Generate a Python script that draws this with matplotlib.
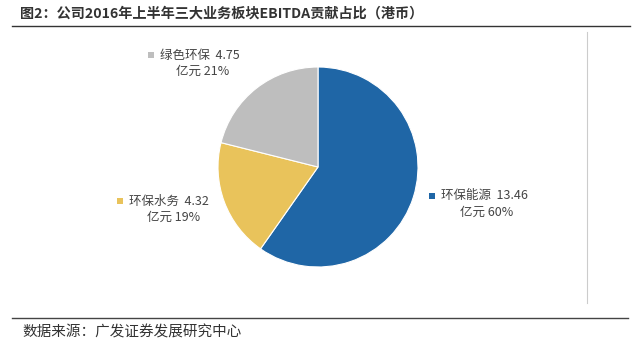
import matplotlib
matplotlib.use("Agg")
import matplotlib.pyplot as plt
from matplotlib.patches import Rectangle
from matplotlib.lines import Line2D

plt.rcParams['font.family'] = ['Noto Sans CJK SC', 'DejaVu Sans']

title = "图2：公司2016年上半年三大业务板块EBITDA贡献占比（港币）"
source = "数据来源：广发证券发展研究中心"
segments = ["环保能源", "环保水务", "绿色环保"]
values = [13.46, 4.32, 4.75]
unit = "亿元"
colors = ["#1F66A6", "#E9C35B", "#BEBEBE"]

W, H = 640, 348
fig = plt.figure(figsize=(W / 100, H / 100), dpi=100)
fig.patch.set_facecolor("white")

def fx(x):
    return x / W

def fy(y):
    return 1 - y / H

# pie axes: center (318,167), radius 100 px
cx, cy, r = 318, 167, 100
ax = fig.add_axes([fx(cx - r), fy(cy + r), 2 * r / W, 2 * r / H])
ax.pie(values, colors=colors, startangle=90, counterclock=False, radius=1,
       wedgeprops=dict(edgecolor="white", linewidth=0.8))
ax.set_xlim(-1.0, 1.0)
ax.set_ylim(-1.0, 1.0)
ax.set_aspect("equal")
ax.axis("off")

total = sum(values)
# label layout (pixel positions): marker x, first line y, second line center x
layout = {
    "环保能源": (432, 196, 487),
    "环保水务": (120, 201, 174),
    "绿色环保": (151, 55, 203),
}
for name, val, col in zip(segments, values, colors):
    mx, ly, c2 = layout[name]
    fig.patches.append(Rectangle((fx(mx - 3), fy(ly + 3)), 6 / W, 6 / H,
                                 transform=fig.transFigure, facecolor=col,
                                 edgecolor="none"))
    fig.text(fx(mx + 9), fy(ly), f"{name}  {val:.2f}", fontsize=9,
             color="#444444", ha="left", va="center")
    fig.text(fx(c2), fy(ly + 16), f"{unit} {round(val / total * 100):.0f}%",
             fontsize=9, color="#444444", ha="center", va="center")

# title and rules
fig.text(fx(20), fy(13), title, fontsize=10.2, fontweight="bold", color="#333333",
         ha="left", va="center")
fig.add_artist(Line2D([fx(12), fx(630)], [fy(26), fy(26)], color="#333333",
                      linewidth=1.0, transform=fig.transFigure))
fig.add_artist(Line2D([fx(587), fx(587)], [fy(32), fy(303)], color="#CCCCCC",
                      linewidth=0.8, transform=fig.transFigure))
fig.add_artist(Line2D([fx(12), fx(628)], [fy(318), fy(318)], color="#444444",
                      linewidth=1.0, transform=fig.transFigure))
fig.text(fx(22), fy(332), source, fontsize=10.5, color="#333333",
         ha="left", va="center")

fig.savefig("out.png", dpi=100, facecolor="white")
